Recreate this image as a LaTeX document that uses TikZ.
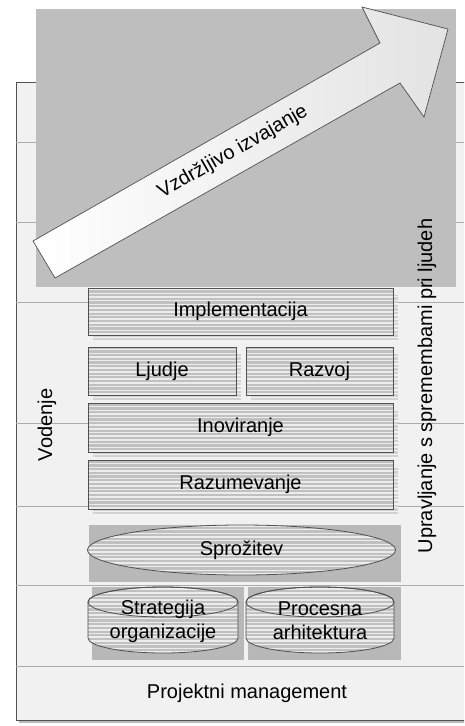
\documentclass[tikz,border=0pt]{standalone}
\usepackage{fontspec}
\setmainfont{Liberation Sans}
\usetikzlibrary{shapes.geometric}
\definecolor{framebg}{HTML}{F1F1F1}
\definecolor{rowline}{HTML}{ABABAB}
\definecolor{biggray}{HTML}{BEBEBE}
\definecolor{stripebg}{HTML}{C0C0C0}
\definecolor{stripeln}{HTML}{ECECEC}
\definecolor{shadebg}{HTML}{D2D2D2}
\definecolor{shadeln}{HTML}{F2F2F2}
\definecolor{edge}{HTML}{505050}
\definecolor{backgray}{HTML}{B8B8B8}
\tikzset{
  stripes/.style 2 args={path picture={
    \fill[#1] (path picture bounding box.south west) rectangle (path picture bounding box.north east);
    \foreach \k in {0,...,24}{
      \draw[#2,line width=1.5pt] ([yshift=\k*3.7pt+1pt]path picture bounding box.south west) -- ([yshift=\k*3.7pt+1pt]path picture bounding box.south east);}
  }},
  txt/.style={font=\fontsize{20}{24}\selectfont, text=black, inner sep=0pt},
  boxstyle/.style={txt, draw=edge, line width=0.8pt, stripes={stripebg}{stripeln}},
  shadowbox/.style={stripes={shadebg}{shadeln}},
  cylbody/.style={draw=edge, line width=0.8pt, stripes={stripebg}{stripeln}},
}
\begin{document}
\begin{tikzpicture}[x=1pt,y=-1pt]
\useasboundingbox (0,0) rectangle (464,726);
\clip (0,0) rectangle (464,726);
% outer frame
\draw[gray!55, line width=1.6pt] (19,722) -- (480,722);
\draw[edge, fill=framebg, line width=0.8pt] (16,82) rectangle (480,720);
\foreach \yy in {142,222,302,423,506,585,666}
  \draw[rowline, line width=1pt] (16.4,\yy) -- (464,\yy);
% big gray area
\fill[biggray] (36,9) rectangle (456,287);
% arrow
\path[draw=edge, line width=0.7pt, left color=white, right color=gray!22]
  (33,241) -- (380,43) -- (362,7) -- (448,29) -- (424,117) -- (400,83) -- (55,278) -- cycle;
\node[txt, rotate=29.7] (arrowtxt) at (233,152) {Vzdržljivo izvajanje};
% side labels
\node[txt, rotate=90] (vod) at (47,425) {Vodenje};
\node[txt, rotate=90] (upr) at (427,386) {Upravljanje s spremembami pri ljudeh};
% shadows
\path[shadowbox] (93,295) rectangle (398,342);
\path[shadowbox] (93,354) rectangle (241,402);
\path[shadowbox] (251,354) rectangle (398,402);
\path[shadowbox] (93,410) rectangle (398,459);
\path[shadowbox] (93,467) rectangle (398,516);
% boxes
\node[boxstyle, minimum width=305pt, minimum height=47pt] (impl) at (240.5,311.5) {Implementacija};
\node[boxstyle, minimum width=148pt, minimum height=48pt] (ljud) at (162,371) {Ljudje};
\node[boxstyle, minimum width=147pt, minimum height=48pt] (razv) at (319.5,371) {Razvoj};
\node[boxstyle, minimum width=305pt, minimum height=49pt] (inov) at (240.5,427.5) {Inoviranje};
\node[boxstyle, minimum width=305pt, minimum height=49pt] (razu) at (240.5,484.5) {Razumevanje};
% Sprozitev
\fill[backgray] (89,525) rectangle (401,582);
\node[txt, ellipse, draw=edge, line width=0.8pt, stripes={stripebg}{stripeln}, minimum width=308pt, minimum height=50pt] (spro) at (241.5,550) {Sprožitev};
% cylinders
\fill[backgray] (92,587) rectangle (244,660);
\fill[backgray] (248,587) rectangle (401,660);
\path[cylbody] (88,602) -- (88,638) arc[start angle=180, end angle=360, x radius=75pt, y radius=15pt]
  -- (238,602) arc[start angle=0, end angle=180, x radius=75pt, y radius=15pt] -- cycle;
\draw[edge, line width=0.8pt] (163,602) ellipse[x radius=75pt, y radius=15pt];
\path[cylbody] (246,602) -- (246,638) arc[start angle=180, end angle=360, x radius=74pt, y radius=15pt]
  -- (394,602) arc[start angle=0, end angle=180, x radius=74pt, y radius=15pt] -- cycle;
\draw[edge, line width=0.8pt] (320,602) ellipse[x radius=74pt, y radius=15pt];
\node[txt, align=center] (strat) at (163,621) {Strategija\\organizacije};
\node[txt, align=center] (proc) at (320,621) {Procesna\\arhitektura};
% bottom
\node[txt] (pm) at (247,693) {Projektni management};
\end{tikzpicture}
\end{document}
